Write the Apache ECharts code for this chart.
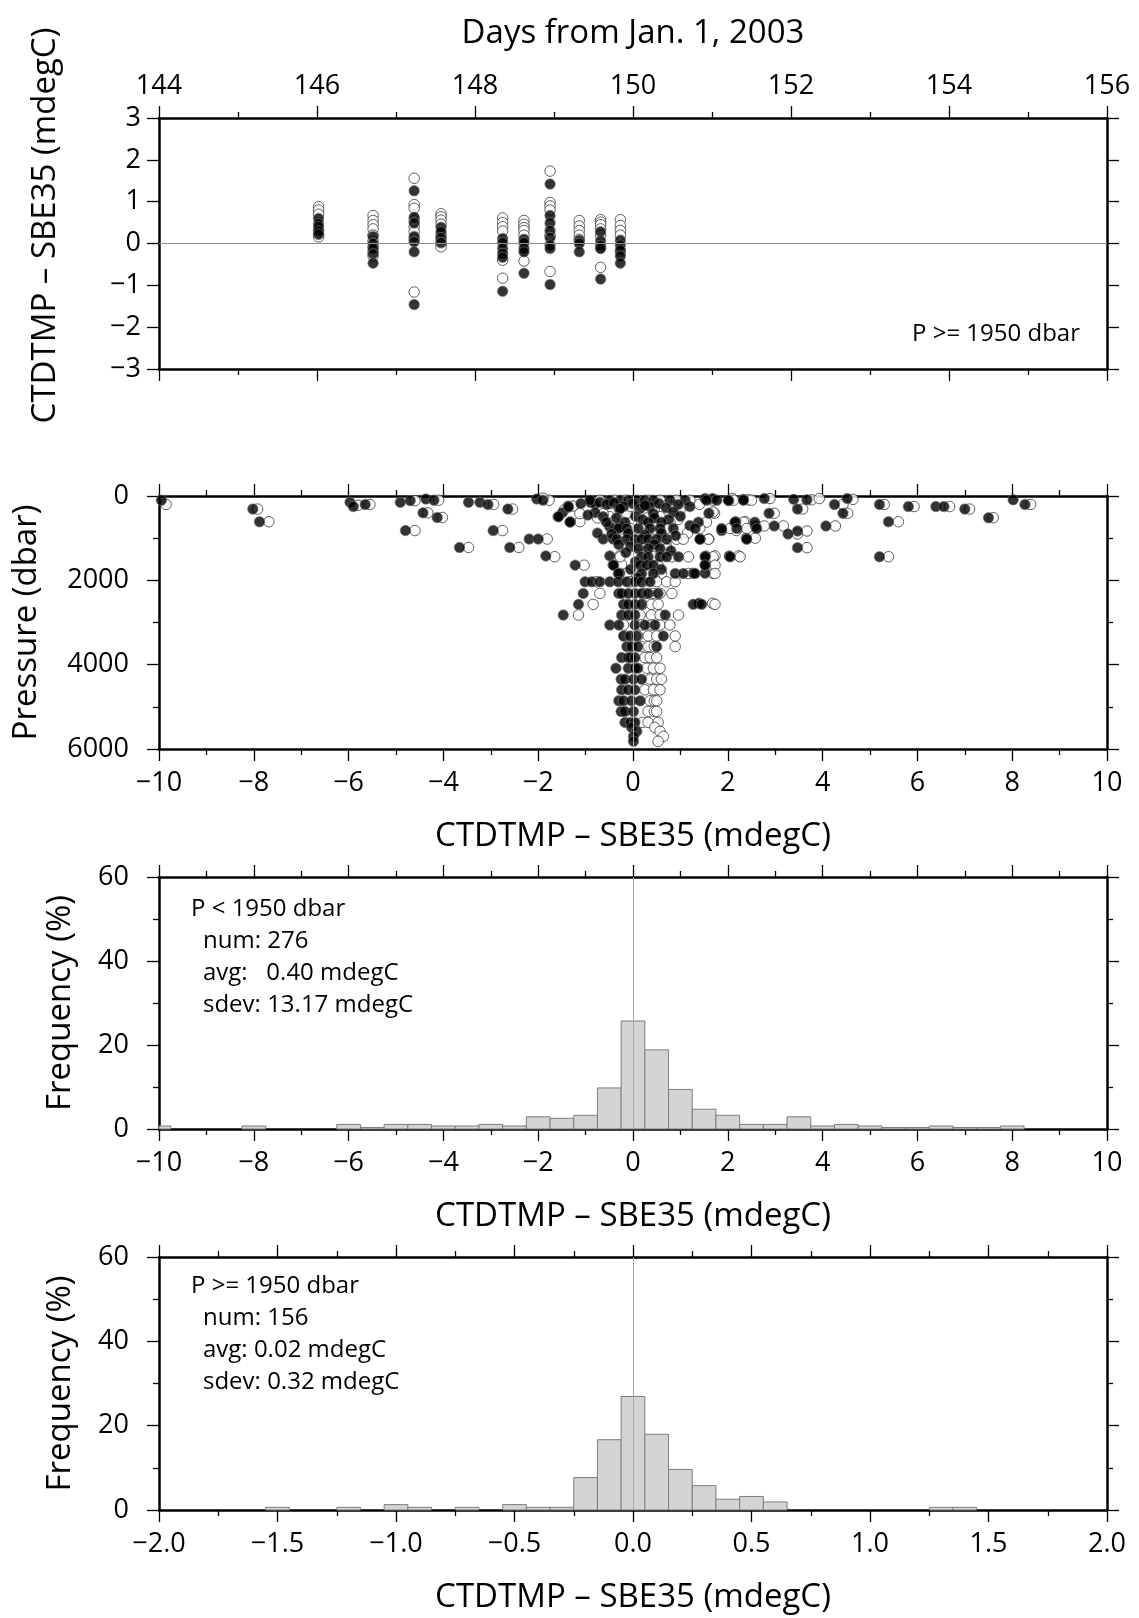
<!DOCTYPE html>
<html><head><meta charset="utf-8">
<script src="https://cdn.jsdelivr.net/npm/echarts/dist/echarts.min.js"></script>
<style>html,body{margin:0;padding:0;background:#fff;}#c{width:1139px;height:1618px;}</style>
</head><body><div id="c"></div>
<script>
// ---------- DATA ----------
// Panel 1: deep (P >= 1950 dbar) differences vs time, per station column
var dayCols = [146.02, 146.71, 147.23, 147.57, 148.35, 148.62, 148.95, 149.32, 149.59, 149.84];
var deepOpen = [
  [0.88, 0.80, 0.70, 0.32, 0.22, 0.16],
  [0.67, 0.55, 0.45, 0.35, 0.20, 0.06, -0.08, -0.20, -0.30],
  [1.56, 0.93, 0.84, 0.55, 0.40, 0.28, 0.10, -1.16],
  [0.71, 0.64, 0.56, 0.46, 0.20, 0.10, 0.00, -0.08],
  [0.61, 0.50, 0.40, 0.30, -0.40, -0.83],
  [0.55, 0.46, 0.38, 0.31, 0.20, -0.42],
  [1.73, 0.98, 0.90, 0.80, 0.20, -0.67],
  [0.55, 0.42, 0.31, 0.20, 0.10],
  [0.57, 0.51, 0.45, 0.35, 0.20, -0.10, -0.57],
  [0.57, 0.43, 0.31, 0.20, -0.20]
];
var deepFilled = [
  [0.60, 0.47, 0.40, 0.30, 0.22],
  [0.17, 0.00, -0.12, -0.25, -0.47],
  [1.26, 0.63, 0.49, 0.17, 0.04, -0.20, -1.46],
  [0.39, 0.28, 0.14, 0.02],
  [0.12, 0.02, -0.12, -0.24, -0.33, -1.14],
  [0.10, 0.02, -0.12, -0.20, -0.71],
  [1.42, 0.67, 0.49, 0.31, 0.14, -0.04, -0.12, -0.98],
  [0.08, 0.00, -0.20],
  [0.28, 0.06, -0.05, -0.12, -0.85],
  [0.08, -0.04, -0.16, -0.30, -0.47]
];
// Panel 2: [difference (mdegC), pressure (dbar)]
var profOpen = [
  [-9.85,200],[-7.92,310],[-7.68,610],[-5.8,220],[-5.55,200],[-4.6,110],[-4.1,100],[-4.33,400],[-4.02,510],[-4.6,820],
  [-2.94,200],[-2.54,310],[-2.75,820],[-3.47,1220],[-2.41,1220],[-1.77,100],[-1.65,1440],[-1.81,1020],[-1.03,1640],
  [-1.27,237],[-1.12,608],[-0.49,490],[-0.14,310],[-0.28,1420],[-0.24,1635],[-0.14,1830],[-1.9,50],[-1.45,330],
  [2.1,60],[2.43,90],[2.89,60],[3.77,90],[3.93,60],[4.64,80],[8.39,200],[4.43,200],[5.3,200],[5.93,250],[6.68,250],
  [7.1,310],[7.6,515],[3.58,310],[4.53,410],[2.98,410],[1.72,410],[5.6,610],[4.27,710],[3.67,830],[3.47,900],
  [2.18,820],[2.37,610],[2.77,710],[3.17,710],[2.58,1000],[1.6,1020],[3.67,1225],[5.39,1440],[2.23,1420],[1.73,1420],
  [1.68,1830],[1.68,1635],[1.68,2545],[1.73,2570],
  [-0.70,100],[-0.38,100],[-0.17,100],[0.32,100],[0.57,100],[0.92,100],[1.2,100],[1.69,100],[2.12,100],[2.5,100],
  [-1.12,418],[-0.63,418],[-0.13,418],[0.57,490],[0.99,340],[1.69,380],
  [-0.45,180],[-0.05,250],[0.2,200],[0.45,300],[0.85,250],[1.4,200],[-0.75,520],[0.3,520],[0.95,560],
  [-0.41,620],[-0.03,620],[0.78,620],[1.55,620],[2.33,620],
  [-0.34,770],[-0.06,770],[0.22,770],[0.71,770],[1.41,770],[2.05,770],[2.4,770],
  [-0.2,880],[0.45,900],[1.15,880],
  [-0.2,1025],[-0.03,1025],[0.43,1025],[0.92,1025],[1.06,1025],[1.59,1025],
  [0.1,1150],[0.7,1150],
  [0.22,1246],[0.46,1246],[0.71,1246],
  [0.25,1340],
  [-0.27,1443],[0.43,1443],[0.82,1443],[1.17,1443],[1.69,1443],[2.26,1443],
  [0.3,1560],
  [0.36,1640],[0.53,1640],[1.73,1640],
  [0.25,1740],
  [-0.13,1837],[0.32,1837],[0.6,1837],[1.17,1837],[1.73,1837],
  [0.45,1940],
  [-0.77,2034],[-0.06,2034],[0.2,2034],[0.5,2034],[0.71,2034],[0.89,2034],
  [-0.7,2310],[0.25,2310],[0.43,2310],[0.57,2310],[0.82,2310],
  [-0.84,2570],[0.2,2570],[0.39,2570],[0.53,2570],
  [-1.15,2822],[0.0,2822],[0.15,2822],[0.39,2822],[0.57,2822],[0.96,2822],
  [-0.2,3059],[0.18,3059],[0.4,3059],[0.57,3059],[0.78,3059],
  [-0.17,3319],[0.1,3319],[0.32,3319],[0.5,3319],[0.89,3319],
  [0.18,3571],[0.32,3571],[0.45,3571],[0.89,3571],
  [0.25,3832],[0.36,3832],[0.5,3832],
  [0.29,4084],[0.43,4084],[0.57,4084],
  [0.36,4344],[0.5,4344],[0.6,4344],
  [0.25,4597],[0.43,4597],[0.57,4597],
  [0.36,4857],[0.45,4857],[0.5,4857],
  [0.32,5109],[0.45,5109],[0.5,5109],
  [0.2,5369],[0.32,5369],[0.53,5369],
  [0.46,5487],[0.57,5582],[0.64,5700],[0.53,5818]
];
var profFilled = [
  [-9.95,100],[-8.02,310],[-7.88,610],[-5.97,150],[-5.9,250],[-5.65,200],[-4.91,150],[-4.70,110],[-4.37,70],[-4.2,100],
  [-4.43,400],[-4.13,510],[-4.8,820],[-3.47,150],[-3.23,150],[-3.06,200],[-2.64,310],[-2.95,820],[-3.66,1220],[-2.6,1220],
  [-2.03,70],[-1.9,100],[-1.84,1420],[-2.19,1020],[-2.0,1020],[-1.22,1640],[-1.58,490],[-1.49,395],[-1.37,237],[-1.32,608],
  [-0.9,150],[-0.8,190],[-0.8,395],[-0.63,490],[-0.49,730],[-0.28,730],[-0.29,310],[-0.63,1020],[-0.42,1020],
  [-0.49,1420],[-0.42,1635],[-0.28,1830],[-1.36,260],[-1.33,620],[-1.57,490],
  [1.52,60],[1.68,60],[2.02,110],[2.33,80],[2.77,60],[3.39,80],[3.67,90],[4.52,60],[8.02,90],[8.27,200],[4.25,200],
  [5.2,200],[5.81,250],[6.39,250],[6.56,250],[7.0,310],[7.5,515],[3.47,310],[4.43,410],[2.87,410],[1.6,410],[5.39,610],
  [4.07,710],[3.47,830],[3.27,900],[1.87,820],[2.17,610],[2.58,710],[2.98,710],[2.39,1000],[1.42,1020],[3.47,1225],
  [5.2,1440],[2.03,1420],[1.53,1420],[1.27,1830],[1.52,1830],[1.52,1635],[1.39,2545],[1.27,2570],[1.45,2570],
  [-0.91,100],[-0.49,100],[-0.27,100],[-0.1,100],[0.08,100],[0.25,100],[0.43,100],[0.78,100],[1.1,100],[1.55,100],
  [1.77,100],[2.01,100],[2.33,100],
  [-0.7,150],[-0.55,200],[-0.4,160],[-0.2,250],[0.0,180],[0.15,300],[0.35,250],[0.55,180],[0.7,280],[0.95,200],[1.2,250],[-1.1,180],
  [-0.27,300],[0.25,220],[0.43,420],[0.85,380],
  [-0.95,450],[-0.35,520],[0.05,480],[0.2,560],[0.45,520],[0.75,560],[1.0,480],
  [-0.56,620],[-0.17,620],[0.32,620],[0.6,620],[1.38,620],[2.15,620],[2.57,620],
  [1.2,700],
  [-0.31,770],[-0.13,770],[0.11,770],[0.36,770],[0.57,770],[0.85,770],[1.31,770],[1.87,770],[2.19,770],[2.61,770],
  [-0.75,880],[-0.45,900],[-0.1,880],[0.25,920],[0.6,880],[0.9,940],
  [-0.34,1025],[-0.13,1025],[0.04,1025],[0.18,1025],[0.32,1025],[0.5,1025],[0.71,1025],[1.41,1025],[2.4,1025],
  [-0.3,1150],[-0.05,1200],[0.45,1150],
  [0.11,1246],[0.32,1246],[0.57,1246],
  [0.8,1300],[-0.15,1340],
  [0.18,1443],[0.32,1443],[0.57,1443],[0.71,1443],[0.96,1443],[1.52,1443],[2.05,1443],
  [0.05,1560],
  [-0.41,1640],[0.15,1640],[0.29,1640],[0.43,1640],[1.52,1640],
  [-0.05,1740],[0.6,1740],
  [-0.31,1837],[0.18,1837],[0.43,1837],[0.89,1837],[1.06,1837],[1.31,1837],
  [0.1,1940],
  [-1.01,2034],[-0.87,2034],[-0.7,2034],[-0.49,2034],[-0.31,2034],[-0.13,2034],[0.04,2034],[0.18,2034],[0.36,2034],
  [-1.05,2310],[-0.3,2310],[-0.24,2310],[-0.1,2310],[0.04,2310],[0.18,2310],[0.32,2310],[0.53,2310],
  [-1.15,2570],[-0.2,2570],[-0.1,2570],[0.04,2570],[0.18,2570],
  [-1.47,2822],[-0.24,2822],[-0.1,2822],[0.04,2822],[0.68,2822],
  [-0.49,3059],[-0.3,3059],[0.04,3059],[0.25,3059],[0.46,3059],
  [-0.2,3319],[-0.06,3319],[0.08,3319],[0.64,3319],
  [-0.13,3571],[-0.03,3571],[0.1,3571],[0.5,3571],
  [-0.24,3832],[-0.1,3832],[-0.05,3832],[0.04,3832],
  [-0.36,4084],[-0.1,4084],[0.04,4084],[0.1,4084],
  [-0.25,4344],[-0.17,4344],[0.01,4344],[0.18,4344],
  [-0.24,4597],[-0.1,4597],[0.04,4597],
  [-0.3,4857],[-0.2,4857],[-0.03,4857],[0.15,4857],
  [-0.25,5109],[-0.17,5109],[0.01,5109],
  [-0.17,5369],[-0.05,5369],[0.04,5369],
  [-0.03,5487],[0.08,5582],[0.01,5700],[0.01,5818]
];
// Panel 3: histogram P < 1950 dbar (bin width 0.5 mdegC)
var shallowBins = [-10,-9.5,-9,-8.5,-8,-7.5,-7,-6.5,-6,-5.5,-5,-4.5,-4,-3.5,-3,-2.5,-2,-1.5,-1,-0.5,0,0.5,1,1.5,2,2.5,3,3.5,4,4.5,5,5.5,6,6.5,7,7.5,8,8.5,9,9.5,10];
var shallowFreq = [0.72,0,0,0,0.72,0,0,0,1.09,0.36,1.09,1.09,0.72,0.72,1.09,0.72,2.90,2.54,3.26,9.78,25.72,18.84,9.42,4.71,3.26,1.09,1.09,2.90,0.72,1.09,0.72,0.36,0.36,0.72,0.36,0.36,0.72,0,0,0,0];
// Panel 4: histogram P >= 1950 dbar (bin width 0.1 mdegC)
var deepBins = [-2.0,-1.9,-1.8,-1.7,-1.6,-1.5,-1.4,-1.3,-1.2,-1.1,-1.0,-0.9,-0.8,-0.7,-0.6,-0.5,-0.4,-0.3,-0.2,-0.1,0.0,0.1,0.2,0.3,0.4,0.5,0.6,0.7,0.8,0.9,1.0,1.1,1.2,1.3,1.4,1.5,1.6,1.7,1.8,1.9,2.0];
var deepFreq = [0,0,0,0,0,0.64,0,0,0.64,0,1.28,0.64,0,0.64,0,1.28,0.64,0.64,7.69,16.67,26.92,17.95,9.62,5.77,2.56,3.21,1.92,0,0,0,0,0,0,0.64,0.64,0,0,0,0,0,0];
// Tick values
var dayTicks = [144,146,148,150,152,154,156];
var diffTicks = [-3,-2,-1,0,1,2,3];
var pressTicks = [0,2000,4000,6000];
var diffWideTicks = [-10,-8,-6,-4,-2,0,2,4,6,8,10];
var freqTicks = [0,20,40,60];
var diffNarrowTicks = [-2.0,-1.5,-1.0,-0.5,0.0,0.5,1.0,1.5,2.0];
// Texts
var xTitle = 'CTDTMP \u2013 SBE35 (mdegC)';
var statsShallow = ['P < 1950 dbar', 'num: 276', 'avg:   0.40 mdegC', 'sdev: 13.17 mdegC'];
var statsDeep = ['P >= 1950 dbar', 'num: 156', 'avg: 0.02 mdegC', 'sdev: 0.32 mdegC'];

// ---------- CHART ----------
var FONT = "'Open Sans', 'Noto Sans', sans-serif";
var chart = echarts.init(document.getElementById('c'), null, {renderer: 'canvas'});
var GRIDS = [
  {left: 159, top: 118, width: 948, height: 251},
  {left: 159, top: 496, width: 948, height: 253},
  {left: 159, top: 877, width: 948, height: 252},
  {left: 159, top: 1257, width: 948, height: 253}
];
function minus(s){ return String(s).replace('-', '\u2212'); }
function rng(t){ return {min: t[0], max: t[t.length-1], interval: t[1]-t[0]}; }
var AXLINE = {show: true, onZero: false, lineStyle: {color: '#000', width: 2.5}};
var TICK = {show: true, length: 12, lineStyle: {color: '#000', width: 1.3}};
function minorT(show){ return {show: show, splitNumber: 2, length: 6, lineStyle: {color: '#000', width: 1.3}}; }
var TITLE_STYLE = {color: '#000', fontFamily: FONT, fontSize: 33};
function xAxisDef(gi, pos, ticks, showLabel, minor, fmt, name, nameGap){
  var r = rng(ticks);
  return {
    type: 'value', gridIndex: gi, position: pos, min: r.min, max: r.max, interval: r.interval,
    axisLine: AXLINE, axisTick: TICK, minorTick: minorT(minor), splitLine: {show: false},
    axisLabel: {show: showLabel, margin: pos === 'top' ? 18 : 21, color: '#000', fontFamily: FONT, fontSize: 27, hideOverlap: false,
      showMinLabel: true, showMaxLabel: true, formatter: fmt || function(v){ return minus(v); }},
    name: name || '', nameLocation: 'middle', nameGap: nameGap || 0, nameTextStyle: TITLE_STYLE
  };
}
function yAxisDef(gi, pos, ticks, showLabel, minor, inverse, margin, name, nameGap, nameStyle){
  var r = rng(ticks);
  return {
    type: 'value', gridIndex: gi, position: pos, min: r.min, max: r.max, interval: r.interval, inverse: !!inverse,
    axisLine: AXLINE, axisTick: TICK, minorTick: minorT(minor), splitLine: {show: false},
    axisLabel: {show: showLabel, margin: margin || 20, color: '#000', fontFamily: FONT, fontSize: 27,
      showMinLabel: true, showMaxLabel: true, formatter: function(v){ return minus(v); }},
    name: name || '', nameLocation: 'middle', nameGap: nameGap || 0, nameTextStyle: nameStyle || TITLE_STYLE
  };
}
var fmt1 = function(v){ return minus(v.toFixed(1)); };
var xAxes = [
  xAxisDef(0, 'bottom', dayTicks, false, true),
  xAxisDef(0, 'top', dayTicks, true, true, null, 'Days from Jan. 1, 2003', 68),
  xAxisDef(1, 'bottom', diffWideTicks, true, true, null, xTitle, 71),
  xAxisDef(1, 'top', diffWideTicks, false, true),
  xAxisDef(2, 'bottom', diffWideTicks, true, true, null, xTitle, 71),
  xAxisDef(2, 'top', diffWideTicks, false, true),
  xAxisDef(3, 'bottom', diffNarrowTicks, true, true, fmt1, xTitle, 71),
  xAxisDef(3, 'top', diffNarrowTicks, false, true)
];
var yAxes = [
  yAxisDef(0, 'left', diffTicks, true, false, false, 18, xTitle, 97,
    {color: '#000', fontFamily: FONT, fontSize: 33, padding: [0, 0, 0, 36]}),
  yAxisDef(0, 'right', diffTicks, false, false),
  yAxisDef(1, 'left', pressTicks, true, true, true, 30, 'Pressure (dbar)', 116),
  yAxisDef(1, 'right', pressTicks, false, true, true),
  yAxisDef(2, 'left', freqTicks, true, true, false, 30, 'Frequency (%)', 82),
  yAxisDef(2, 'right', freqTicks, false, true),
  yAxisDef(3, 'left', freqTicks, true, true, false, 30, 'Frequency (%)', 82),
  yAxisDef(3, 'right', freqTicks, false, true)
];

function colPoints(cols){
  var out = [];
  cols.forEach(function(vals, i){ vals.forEach(function(v){ out.push([dayCols[i], v]); }); });
  return out;
}
var SYM = 10.5;
var OPEN = {color: '#fff', borderColor: '#3a3a3a', borderWidth: 1};
var FILLED = {color: '#000', borderColor: '#777', borderWidth: 0.8};
var ZERO_H = {silent: true, symbol: 'none', animation: false, label: {show: false},
  lineStyle: {color: '#8c8c8c', type: 'solid', width: 1}, data: [{yAxis: 0}]};
function zeroV(color){ return {silent: true, symbol: 'none', animation: false, label: {show: false},
  lineStyle: {color: color, type: 'solid', width: 1}, data: [{xAxis: 0}]}; }

function histRender(binWidth){
  return function(params, api){
    var c = api.value(0), v = api.value(1);
    if (!v) return;
    var p0 = api.coord([c - binWidth/2, v]);
    var p1 = api.coord([c + binWidth/2, 0]);
    var cs = params.coordSys;
    var rect = echarts.graphic.clipRectByRect(
      {x: p0[0], y: p0[1], width: p1[0] - p0[0], height: p1[1] - p0[1]},
      {x: cs.x, y: cs.y, width: cs.width, height: cs.height});
    if (!rect) return;
    return {type: 'rect', shape: rect, style: {fill: '#d4d4d4', stroke: '#7d7d7d', lineWidth: 1}};
  };
}
function zip(a, b){ return a.map(function(x, i){ return [x, b[i]]; }); }

var series = [
  {type: 'scatter', xAxisIndex: 0, yAxisIndex: 0, symbolSize: SYM, itemStyle: OPEN, data: colPoints(deepOpen), markLine: ZERO_H, z: 3},
  {type: 'scatter', xAxisIndex: 0, yAxisIndex: 0, symbolSize: SYM, itemStyle: FILLED, data: colPoints(deepFilled), z: 4},
  {type: 'scatter', xAxisIndex: 2, yAxisIndex: 2, symbolSize: SYM, itemStyle: OPEN, data: profOpen, markLine: zeroV('#b5b5b5'), z: 3},
  {type: 'scatter', xAxisIndex: 2, yAxisIndex: 2, symbolSize: SYM, itemStyle: FILLED, data: profFilled, z: 4},
  {type: 'custom', xAxisIndex: 4, yAxisIndex: 4, renderItem: histRender(0.5), encode: {x: 0, y: 1},
    data: zip(shallowBins, shallowFreq), markLine: zeroV('#a8a8a8'), z: 3},
  {type: 'custom', xAxisIndex: 6, yAxisIndex: 6, renderItem: histRender(0.1), encode: {x: 0, y: 1},
    data: zip(deepBins, deepFreq), markLine: zeroV('#a8a8a8'), z: 3}
];

function textBlock(lines, x0, x1, y0, dy){
  return lines.map(function(s, i){
    return {type: 'text', left: (i === 0 ? x0 : x1), top: y0 + i*dy - 15,
      style: {text: s, fill: '#000', font: '24px ' + FONT}};
  });
}
var graphics = [
  {type: 'text', right: 1139 - 1080, top: 337 - 15, style: {text: 'P >= 1950 dbar', fill: '#000', font: '24px ' + FONT}}
].concat(textBlock(statsShallow, 191, 203, 912, 32)).concat(textBlock(statsDeep, 191, 203, 1289, 32));

chart.setOption({
  backgroundColor: '#fff',
  animation: false,
  textStyle: {fontFamily: FONT},
  grid: GRIDS,
  xAxis: xAxes,
  yAxis: yAxes,
  series: series,
  graphic: graphics
});
</script></body></html>
